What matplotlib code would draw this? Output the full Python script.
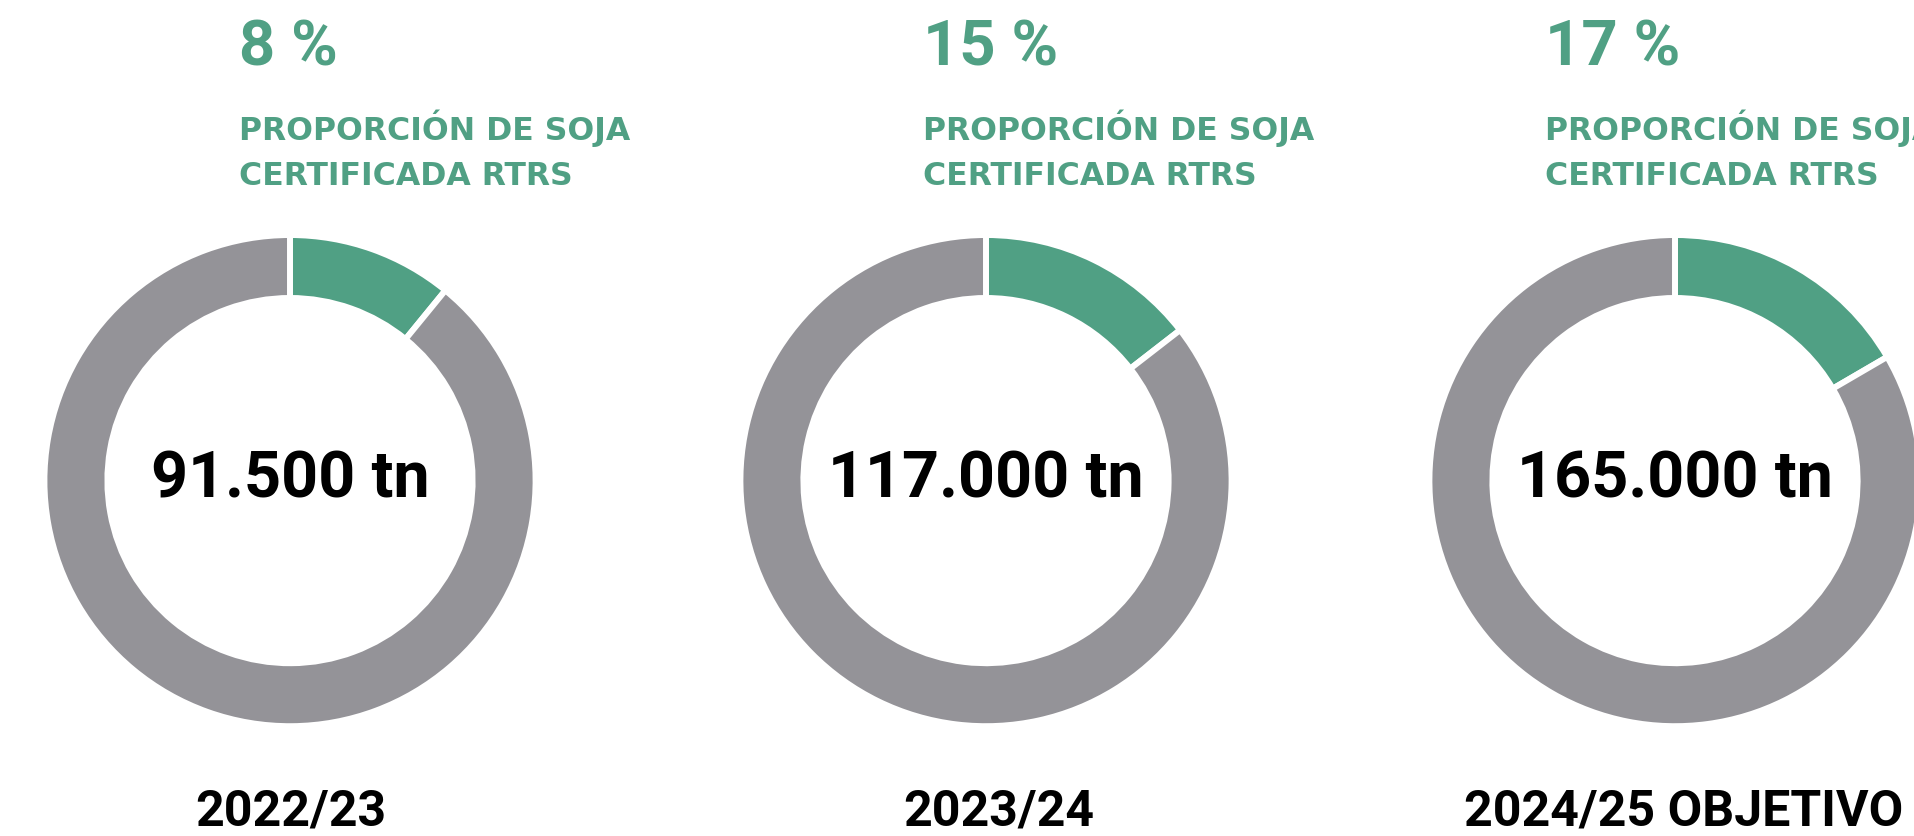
"""
Donut charts: share of RTRS certified soy per campaign.
"""

import matplotlib.pyplot as plt

plt.rcParams['font.family'] = ['Roboto', 'DejaVu Sans']

# data
campaigns = ["2022/23", "2023/24", "2024/25 OBJETIVO"]
volumes = ["91.500 tn", "117.000 tn", "165.000 tn"]
pct_labels = ["8 %", "15 %", "17 %"]
# share of the ring that is actually drawn green (measured on the picture)
arc_share = [10.9, 14.5, 16.6]
heading = ["PROPORCIÓN DE SOJA", "CERTIFICADA RTRS"]

GREEN = '#50A084'
GREY = '#949398'
W, H = 1915, 836


def main():
    fig = plt.figure(figsize=(W / 100, H / 100), dpi=100)
    ax = fig.add_axes([0, 0, 1, 1])

    centers_x = [290, 986, 1675]
    text_x = [239, 923, 1545]
    year_x = [291, 999, 1684]
    cy = H - 480.6

    for i in range(3):
        share = arc_share[i]
        ax.pie([share, 100 - share], colors=[GREEN, GREY],
               radius=245.6, center=(centers_x[i], cy),
               startangle=90, counterclock=False,
               wedgeprops=dict(width=63, edgecolor='white', linewidth=4.3))

        ax.text(centers_x[i], H - 498, volumes[i], ha='center', va='baseline',
                fontsize=46.6, fontweight='bold', color='black')

        ax.text(text_x[i], H - 65, pct_labels[i], ha='left', va='baseline',
                fontsize=45.6, fontweight='bold', color=GREEN)
        for j, line in enumerate(heading):
            ax.text(text_x[i], H - (140 + 45 * j), line, ha='left', va='baseline',
                    fontsize=22.7, fontweight='bold', color=GREEN,
                    family='DejaVu Sans')

        ax.text(year_x[i], H - 826, campaigns[i], ha='center', va='baseline',
                fontsize=36, fontweight='bold', color='black')

    ax.set_xlim(0, W)
    ax.set_ylim(0, H)
    ax.set_aspect('equal')
    ax.axis('off')

    fig.savefig("out.png", dpi=100, facecolor='white')
    plt.close(fig)


if __name__ == "__main__":
    main()
